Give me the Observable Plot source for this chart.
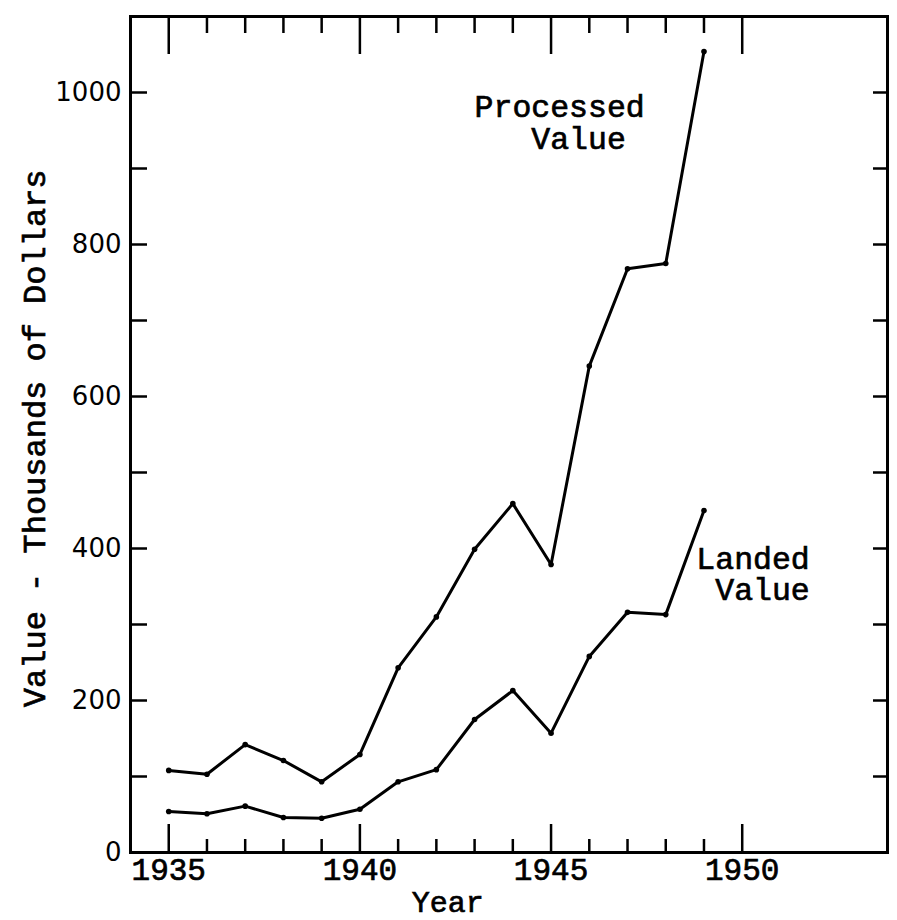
<!DOCTYPE html>
<html><head><meta charset="utf-8">
<script src="https://cdn.jsdelivr.net/npm/d3@7"></script>
<script src="https://cdn.jsdelivr.net/npm/@observablehq/plot@0.6"></script>
<style>
body{margin:0;background:#fff}
svg{display:block; white-space:pre}
svg g[font-family*="Liberation Mono"]{stroke:#000; stroke-width:0.7px}
</style>
</head><body><div id="chart"></div>
<script>
const years = [1935,1936,1937,1938,1939,1940,1941,1942,1943,1944,1945,1946,1947,1948,1949];
const processedValue = [108,103,142,121,93,129,243,310,399,459,379,640,768,775,1054];
const landedValue = [54,51,61,46,45,57,93,109,175,213,157,258,316,313,450];
const xTickLabels = [1935,1940,1945,1950];
const xMinorTicks = [1936,1937,1938,1939,1941,1942,1943,1944,1946,1947,1948,1949];
const yTickLabels = [0,200,400,600,800,1000];
const yTicks = [100,200,300,400,500,600,700,800,900,1000];
const xTitle = "Year";
const yTitle = "Value - Thousands of Dollars";
const seriesLabels = ["Processed\n   Value", "Landed\n Value"];

const processed = years.map((year, i) => ({year, value: processedValue[i]}));
const landed = years.map((year, i) => ({year, value: landedValue[i]}));

const W = 897, H = 920, mL = 130, mR = 10, mT = 16, mB = 68;
const pw = W - mL - mR, ph = H - mT - mB;
const mono = "'Liberation Mono', 'DejaVu Sans Mono', monospace";

const chart = Plot.plot({
  width: W, height: H,
  marginLeft: mL, marginRight: mR, marginTop: mT, marginBottom: mB,
  x: {domain: [1934, 1953.8]},
  y: {domain: [0, 1100]},
  style: {background: "#fff", color: "black"},
  marks: [
    // bottom ticks (inward)
    Plot.tickX(xTickLabels, {x: d => d, insetTop: ph - 28, stroke: "black", strokeWidth: 2.5}),
    Plot.tickX(xMinorTicks, {x: d => d, insetTop: ph - 13, stroke: "black", strokeWidth: 2.5}),
    // top ticks (inward)
    Plot.tickX(xTickLabels, {x: d => d, insetBottom: ph - 38, stroke: "black", strokeWidth: 2.5}),
    Plot.tickX(xMinorTicks, {x: d => d, insetBottom: ph - 17, stroke: "black", strokeWidth: 2.5}),
    // left & right ticks (inward)
    Plot.tickY(yTicks, {y: d => d, insetRight: pw - 17, stroke: "black", strokeWidth: 2.5}),
    Plot.tickY(yTicks, {y: d => d, insetLeft: pw - 14, stroke: "black", strokeWidth: 2.5}),
    Plot.frame({stroke: "black", strokeWidth: 3}),
    Plot.line(processed, {x: "year", y: "value", stroke: "black", strokeWidth: 3}),
    Plot.dot(processed, {x: "year", y: "value", r: 2.8, fill: "black"}),
    Plot.line(landed, {x: "year", y: "value", stroke: "black", strokeWidth: 3}),
    Plot.dot(landed, {x: "year", y: "value", r: 2.8, fill: "black"}),
    Plot.axisX({ticks: xTickLabels, tickSize: 0, tickPadding: 5, tickFormat: d => String(d),
      fontSize: 31, fontFamily: mono, label: null}),
    Plot.axisY({ticks: yTickLabels, tickSize: 0, tickPadding: 9, tickFormat: d => String(d),
      fontSize: 26, fontFamily: "'DejaVu Sans', sans-serif", label: null}),
    Plot.text([xTitle], {x: [1942.3], text: d => d, frameAnchor: "bottom", lineAnchor: "bottom",
      dy: 59, fontSize: 30, fontFamily: mono, fill: "black"}),
    Plot.text([yTitle], {y: [545], text: d => d, frameAnchor: "left", textAnchor: "middle", rotate: -90,
      dx: -96, fontSize: 32, fontFamily: mono, fill: "black"}),
    Plot.text([{t: seriesLabels[0], x: 1943, y: 926}, {t: seriesLabels[1], x: 1948.8, y: 332}],
      {x: "x", y: "y", text: "t", textAnchor: "start", lineAnchor: "bottom", lineHeight: 1.0,
       fontSize: 31.5, fontFamily: mono, fill: "black"})
  ]
});
document.getElementById("chart").appendChild(chart);
</script></body></html>
